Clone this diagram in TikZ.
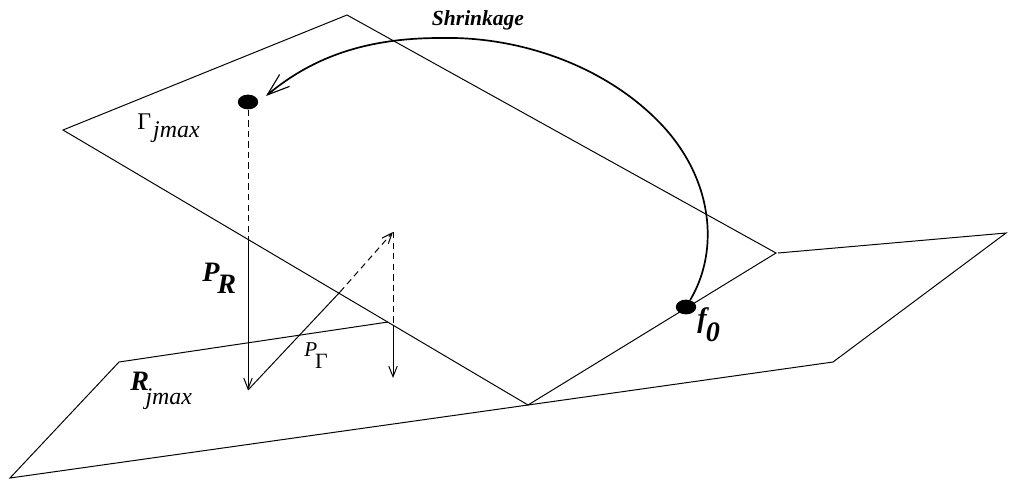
\documentclass[tikz,border=0pt]{standalone}
\usepackage{fontspec}
\setmainfont{Liberation Serif}
\usetikzlibrary{arrows.meta, shapes.geometric}
\tikzset{
    plane line/.style={draw=black, line width=0.7pt},
    proj line/.style={draw=black, line width=0.7pt},
    proj dash/.style={draw=black, line width=0.7pt, dash pattern=on 4.5pt off 3pt},
    barb/.style={-{Straight Barb[length=7.5pt, width=6pt, line width=0.7pt]}},
    point node/.style={ellipse, fill=black, minimum width=14.5pt, minimum height=10.5pt, inner sep=0pt},
    main label/.style={font=\fontsize{20}{22}\selectfont\itshape\bfseries, inner sep=0pt, anchor=base west},
}
\newcommand{\lowered}[4]{#1\kern#3\raisebox{#4}{#2}}
\newcommand{\jmaxtext}{\fontsize{17}{19}\selectfont\mdseries jmax}
\newcommand{\gammatext}[1]{{\upshape\mdseries\fontsize{#1}{20}\selectfont Γ}}
\begin{document}
\begin{tikzpicture}[x=0.025cm, y=-0.025cm]
    \useasboundingbox (0,0) rectangle (1010,483);
    % upper plane
    \coordinate (g1) at (347,15);
    \coordinate (g2) at (63,130);
    \coordinate (g3) at (528,405);
    \coordinate (g4) at (776,253);
    \draw[plane line] (g1) -- (g2) -- (g3) -- (g4) -- cycle;
    % lower plane
    \coordinate (r1) at (119,362);
    \coordinate (r2) at (388,322);
    \coordinate (r3) at (778,253);
    \coordinate (r4) at (1006,233);
    \coordinate (r5) at (833,362);
    \coordinate (r6) at (10,478);
    \draw[plane line] (r2) -- (r1) -- (r6) -- (r5) -- (r4) -- (r3);
    % points
    \node[point node] (gpoint) at (248,102) {};
    \node[point node] (fzero) at (686,307) {};
    \coordinate (rfoot) at (248,390);
    \coordinate (gtop) at (393,232);
    \coordinate (gfoot) at (393,378);
    \coordinate (rcross) at (248,240);
    \coordinate (dcross) at (340,292);
    \coordinate (vcross) at (393,325);
    % projections
    \draw[proj dash] (gpoint) -- (rcross);
    \draw[proj line, barb] (rcross) -- (rfoot);
    \draw[proj line] (rfoot) -- (dcross);
    \draw[proj dash, barb] (dcross) -- (gtop);
    \draw[proj dash] (gtop) -- (vcross);
    \draw[proj line, barb] (vcross) -- (gfoot);
    % shrinkage arc
    \coordinate (archead) at (266,96);
    \draw[line width=1.2pt, -{Straight Barb[length=16pt, width=11pt, line width=0.8pt]}]
        (fzero) .. controls (720,250) and (713,178) .. (660,123)
        .. controls (605,66) and (520,36) .. (440,38)
        .. controls (370,38) and (315,55) .. (archead);
    % labels
    \node[main label, anchor=center] (shrink) at (478,20) {\fontsize{15.3}{17}\selectfont Shrinkage};
    \node[main label] (gamma) at (137,129) {\lowered{\gammatext{17}}{\jmaxtext}{1.5pt}{-5.7pt}};
    \node[main label] (pr) at (202,281) {\lowered{P}{R}{-1.5pt}{-8.6pt}};
    \node[main label] (pg) at (304,356) {\lowered{\fontsize{15}{17}\selectfont\mdseries P}{\gammatext{15.5}}{-1.5pt}{-8.6pt}};
    \node[main label] (rj) at (130,390) {\lowered{R}{\jmaxtext}{-2.5pt}{-10pt}};
    \node[main label] (fz) at (697,327) {\lowered{f}{0}{-0.5pt}{-10pt}};
\end{tikzpicture}
\end{document}
